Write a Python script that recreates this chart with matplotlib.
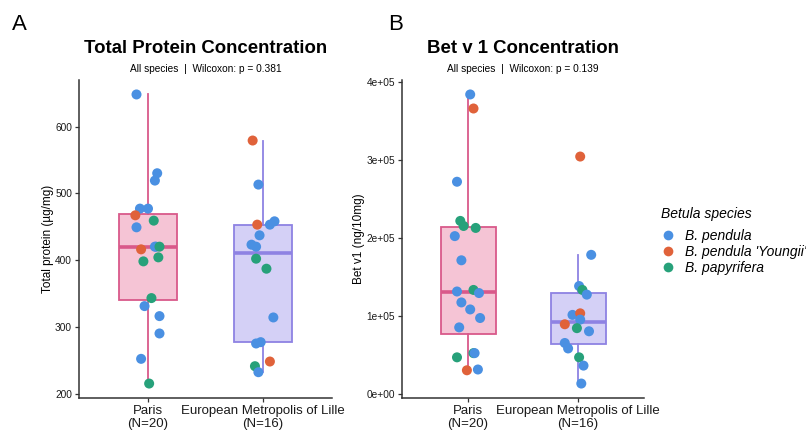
import numpy as np
import matplotlib
matplotlib.use("Agg")
import matplotlib.pyplot as plt
from matplotlib.lines import Line2D
from matplotlib.ticker import FuncFormatter

plt.rcParams['font.family'] = ['Liberation Sans', 'DejaVu Sans']

# data
groups = ["Paris\n(N=20)", "European Metropolis of Lille\n(N=16)"]
species_names = ["B. pendula", "B. pendula 'Youngii'", "B. papyrifera"]
species_colors = {"P": "#4A90E2", "Y": "#E0623A", "G": "#27A17A"}

# panel A: total protein (ug/mg)
prot_paris = [648, 530, 519, 477, 477, 467, 459, 449, 416, 420, 420, 420, 404, 398, 343, 331, 316, 290, 252, 215]
prot_paris_sp = ["P", "P", "P", "P", "P", "Y", "G", "P", "Y", "P", "P", "G", "G", "G", "G", "P", "P", "P", "P", "G"]
prot_paris_jit = [-0.10, 0.08, 0.06, -0.07, 0.0, -0.11, 0.05, -0.10, -0.06, 0.07, 0.06, 0.10, 0.09, -0.04, 0.03, -0.03, 0.10, 0.10, -0.06, 0.01]

prot_lille = [579, 513, 453, 453, 458, 437, 423, 420, 402, 387, 314, 275, 277, 248, 241, 232]
prot_lille_sp = ["Y", "P", "Y", "P", "P", "P", "P", "P", "G", "G", "P", "P", "P", "Y", "G", "P"]
prot_lille_jit = [-0.09, -0.04, -0.05, 0.06, 0.10, -0.03, -0.10, -0.06, -0.06, 0.03, 0.09, -0.06, -0.02, 0.06, -0.07, -0.04]

# panel B: Bet v 1 (ng/10mg)
bet_paris = [384600, 366600, 272700, 222500, 216000, 213500, 203000, 172000, 134000, 132000,
             130000, 118000, 109000, 98000, 86000, 47600, 53000, 53000, 31000, 32000]
bet_paris_sp = ["P", "Y", "P", "G", "G", "G", "P", "P", "G", "P", "P", "P", "P", "P", "P", "G", "G", "P", "Y", "P"]
bet_paris_jit = [0.02, 0.05, -0.10, -0.07, -0.04, 0.07, -0.12, -0.06, 0.05, -0.10, 0.10, -0.06, 0.02, 0.11, -0.08, -0.10, 0.05, 0.06, -0.01, 0.09]

bet_lille = [305000, 179000, 139000, 134000, 128000, 102000, 104000, 96000, 90000, 85000,
             81000, 66000, 59000, 47600, 37000, 14000]
bet_lille_sp = ["Y", "P", "P", "G", "P", "P", "Y", "P", "Y", "G", "P", "P", "P", "G", "P", "P"]
bet_lille_jit = [0.02, 0.12, 0.01, 0.04, 0.08, -0.05, 0.02, 0.02, -0.12, -0.01, 0.10, -0.12, -0.09, 0.01, 0.05, 0.03]

box_fill = ["#F5C4D5", "#D4D0F6"]
box_edge = ["#D9598A", "#8E82E3"]
axis_col = "#333333"


def draw_panel(ax, data, species, jitter, title, subtitle, ylabel):
    bp = ax.boxplot(data, positions=[1, 2], widths=0.5, patch_artist=True,
                    showfliers=False, showcaps=False, whis=1.5)
    for i in range(2):
        bp["boxes"][i].set(facecolor=box_fill[i], edgecolor=box_edge[i], linewidth=1.3)
        bp["medians"][i].set(color=box_edge[i], linewidth=2.6)
        for w in bp["whiskers"][2 * i:2 * i + 2]:
            w.set(color=box_edge[i], linewidth=1.3)
    for i in range(2):
        xs = np.array(jitter[i]) + (i + 1)
        cols = [species_colors[s] for s in species[i]]
        ax.scatter(xs, data[i], c=cols, s=52, edgecolors="none", zorder=3)

    ax.set_xlim(0.4, 2.6)
    ax.set_xticks([1, 2])
    ax.set_xticklabels(groups, fontsize=9.5, color="#1a1a1a", linespacing=1.1)
    ax.set_ylabel(ylabel, fontsize=8.5, labelpad=1)
    ax.tick_params(axis="y", labelsize=7.3, colors=axis_col, length=3, width=0.9, pad=2)
    ax.tick_params(axis="x", colors=axis_col, length=3, width=0.9, pad=2)
    for lab in ax.get_yticklabels() + ax.get_xticklabels():
        lab.set_color("#1a1a1a")
    for side in ["top", "right"]:
        ax.spines[side].set_visible(False)
    for side in ["left", "bottom"]:
        ax.spines[side].set_color(axis_col)
        ax.spines[side].set_linewidth(1.1)
    ax.text(0.5, 1.072, title, transform=ax.transAxes, ha="center", va="bottom",
            fontsize=13.4, fontweight="bold")
    ax.text(0.5, 1.018, subtitle, transform=ax.transAxes, ha="center", va="bottom",
            fontsize=7.3)


fig = plt.figure(figsize=(8.06, 4.30), dpi=100)
W, H = 806, 430
axA = fig.add_axes([79 / W, (H - 398) / H, (332 - 79) / W, (398 - 80) / H])
axB = fig.add_axes([402 / W, (H - 398) / H, (644 - 402) / W, (398 - 80) / H])

draw_panel(axA, [prot_paris, prot_lille], [prot_paris_sp, prot_lille_sp],
           [prot_paris_jit, prot_lille_jit], "Total Protein Concentration",
           "All species  |  Wilcoxon: p = 0.381", "Total protein (µg/mg)")
axA.set_yticks([200, 300, 400, 500, 600])

draw_panel(axB, [bet_paris, bet_lille], [bet_paris_sp, bet_lille_sp],
           [bet_paris_jit, bet_lille_jit], "Bet v 1 Concentration",
           "All species  |  Wilcoxon: p = 0.139", "Bet v1 (ng/10mg)")
axB.set_yticks([0, 100000, 200000, 300000, 400000])
axB.yaxis.set_major_formatter(FuncFormatter(lambda v, p: f"{v:.0e}"))

fig.text(12 / W, 1 - 24 / H, "A", fontsize=16, va="center", ha="left")
fig.text(388 / W, 1 - 24 / H, "B", fontsize=16, va="center", ha="left")

handles = [Line2D([], [], marker="o", linestyle="none", markersize=7,
                  markerfacecolor=species_colors[k], markeredgecolor="none")
           for k in ["P", "Y", "G"]]
leg = fig.legend(handles, species_names, loc="upper left",
                 bbox_to_anchor=(661 / W, 1 - 207 / H), frameon=False,
                 title="Betula species", fontsize=10, title_fontsize=10,
                 handletextpad=0.7, handlelength=1.0, labelspacing=0.12,
                 borderaxespad=0, borderpad=0)
leg._legend_box.align = "left"
leg._legend_box.sep = 6
leg.get_title().set_fontstyle("italic")
for t in leg.get_texts():
    t.set_fontstyle("italic")

fig.savefig("out.png", dpi=100)
